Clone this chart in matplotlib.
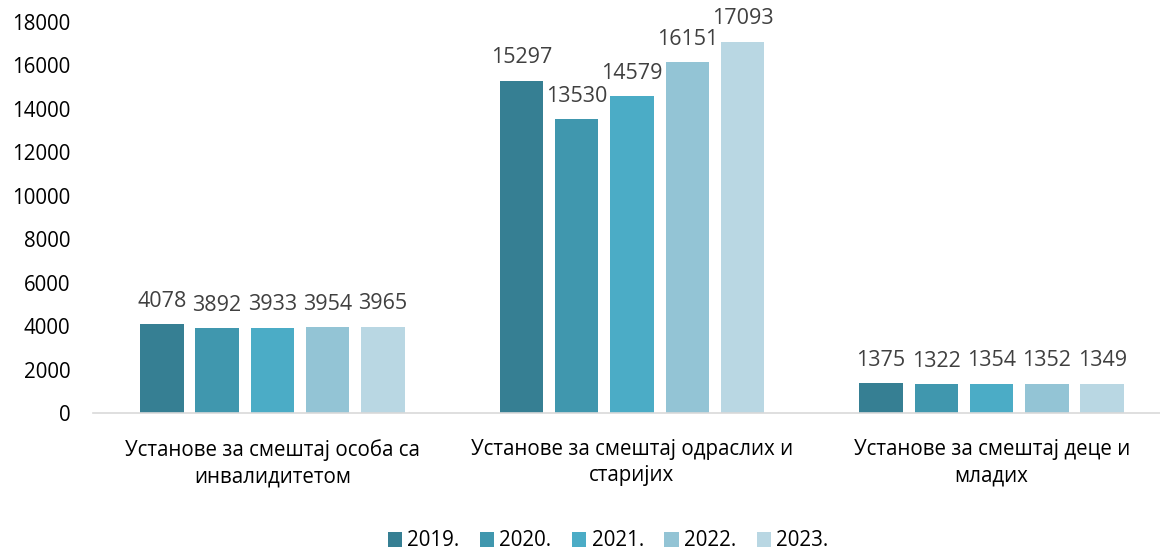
import matplotlib
matplotlib.use("Agg")
import matplotlib.pyplot as plt
import numpy as np

plt.rcParams["font.family"] = ["Open Sans", "DejaVu Sans"]

categories = [
    "Установе за смештај особа са\nинвалидитетом",
    "Установе за смештај одраслих и\nстаријих",
    "Установе за смештај деце и\nмладих",
]
years = ["2019.", "2020.", "2021.", "2022.", "2023."]
values = {
    "2019.": [4078, 15297, 1375],
    "2020.": [3892, 13530, 1322],
    "2021.": [3933, 14579, 1354],
    "2022.": [3954, 16151, 1352],
    "2023.": [3965, 17093, 1349],
}
colors = ["#367F93", "#4097AE", "#4BACC6", "#93C4D5", "#B9D7E3"]

fig = plt.figure(figsize=(11.6, 5.52), dpi=100)
ax = fig.add_axes([92.5 / 1160, 139 / 552, 1079 / 1160, 391 / 552])

x = np.arange(len(categories))
step = 0.1537
width = 0.121
for i, (yr, c) in enumerate(zip(years, colors)):
    pos = x + (i - 2) * step
    bars = ax.bar(pos, values[yr], width, color=c, label=yr)
    for b, v in zip(bars, values[yr]):
        ax.annotate(str(v), (b.get_x() + b.get_width() / 2, v),
                    xytext=(0, 9), textcoords="offset points",
                    ha="center", va="bottom", fontsize=15.5, color="#404040")

ax.set_xlim(-0.5, 2.5)
ax.set_ylim(0, 18000)
ax.set_yticks(range(0, 18001, 2000))
ax.set_xticks(x)
ax.set_xticklabels(categories, fontsize=14.8, color="#000000", linespacing=1.3)
ax.tick_params(axis="y", labelsize=14.8, colors="#000000", length=0, pad=16)
ax.tick_params(axis="x", length=0, pad=19)
for s in ["top", "right", "left"]:
    ax.spines[s].set_visible(False)
ax.spines["bottom"].set_color("#D9D9D9")
ax.spines["bottom"].set_linewidth(1.2)

fig.legend(loc="center", bbox_to_anchor=(608 / 1160, 1 - 541 / 552), ncol=5,
           frameon=False, fontsize=14.8, handlelength=0.7, handleheight=0.7,
           handletextpad=0.25, columnspacing=1.0)

plt.savefig("out.png", dpi=100)
